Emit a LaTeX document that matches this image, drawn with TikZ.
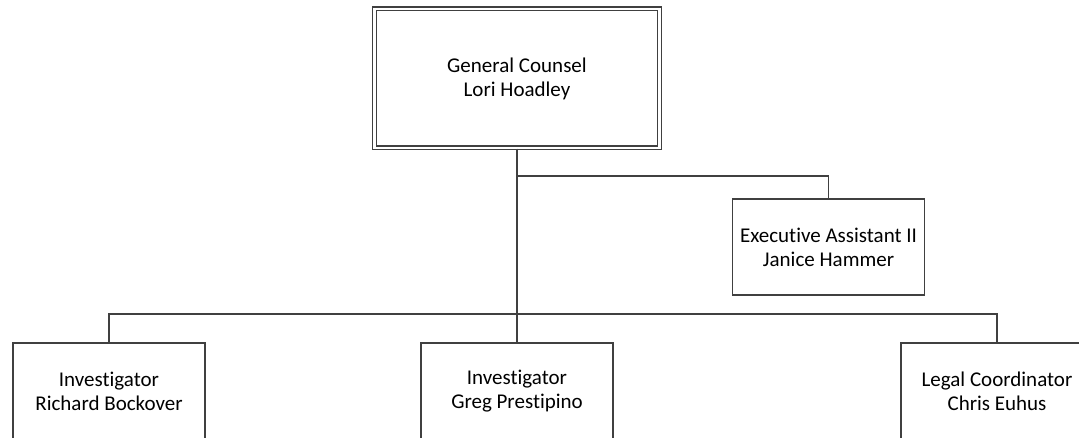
\documentclass[tikz,border=0pt]{standalone}
\usepackage{fontspec}
\setmainfont{Carlito}[Ligatures=CommonOff]
\usetikzlibrary{positioning}

\begin{document}
\begin{tikzpicture}[x=1pt,y=-1pt,
post/.style={
  draw=black!75,
  line width=1.3pt,
  minimum width=192pt,
  minimum height=96pt,
  inner sep=0pt,
  align=center,
  font=\fontsize{21}{24}\selectfont
  },
headpost/.style={post, double, double distance=2.4pt, minimum width=285pt, minimum height=139pt},
link/.style={draw=black!75, line width=1.3pt}
]
\useasboundingbox (0,0) rectangle (1079,438);
\clip (0,0) rectangle (1079,438);

\node[headpost] (counsel) at (517,78.5) {General Counsel\\Lori Hoadley};
\node[post] (assistant) at (828.5,247) {Executive Assistant II\\Janice Hammer};
\node[post] (investigatorA) at (109,391) {Investigator\\Richard Bockover};
\node[post] (investigatorB) at (517,391) {Investigator\\Greg Prestipino};
\node[post] (coordinator) at (997,391) {Legal Coordinator\\Chris Euhus};

\coordinate (fork) at (517,176);
\coordinate (bar) at (517,314);

\draw[link] (counsel.south) -- (investigatorB.north);
\draw[link] (fork) -| (assistant.north);
\draw[link] (investigatorA.north) |- (bar) -| (coordinator.north);
\end{tikzpicture}
\end{document}
